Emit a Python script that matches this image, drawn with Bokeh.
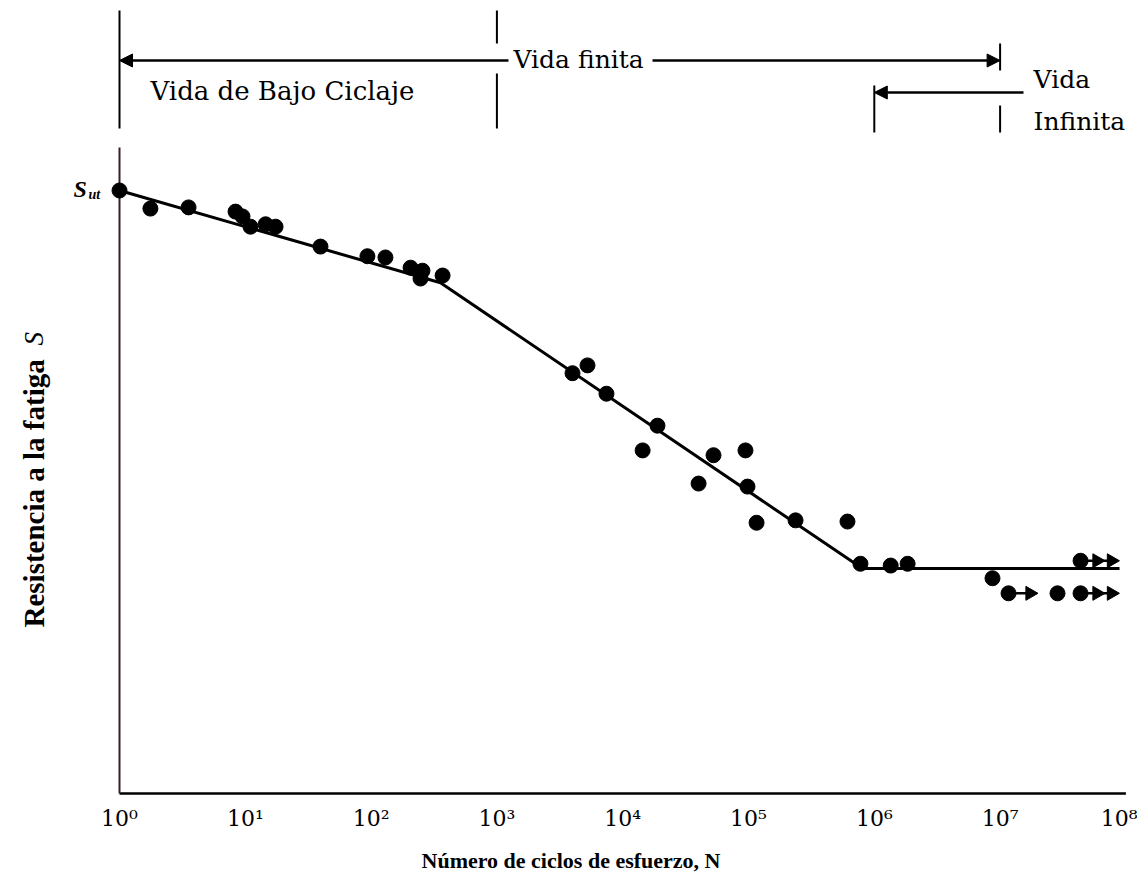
import numpy as np
from bokeh.plotting import figure
from bokeh.models import Range1d, FixedTicker, Arrow, NormalHead, CustomJSTickFormatter
from bokeh.core.properties import value
from bokeh.embed import file_html
from bokeh.resources import INLINE

# ---------------- data ----------------
# test points: number of cycles N and fatigue strength S (S / Sut)
cycles = [1, 1.76, 3.54, 8.36, 9.5, 11.0, 14.5, 17.4, 39.6, 93.5, 130, 206, 256, 247, 370,
          3990, 5250, 7430, 18900, 14400, 52700, 94600, 40100, 98200, 115900, 236600,
          612000, 776000, 1.35e6, 1.84e6, 8.7e6, 2.86e7]
strength = [1.000, 0.970, 0.972, 0.965, 0.957, 0.940, 0.944, 0.940, 0.907, 0.891, 0.889,
            0.872, 0.867, 0.854, 0.859,
            0.697, 0.710, 0.663, 0.610, 0.569, 0.561, 0.569, 0.514, 0.509, 0.449, 0.453,
            0.451, 0.381, 0.378, 0.381, 0.357, 0.332]

# run-outs (specimens that did not fail)
runout_cycles = [1.167e7, 4.36e7, 4.36e7]
runout_strength = [0.332, 0.332, 0.386]
runout_heads = [1, 2, 2]

# fitted S-N curve
curve_cycles = [1, 356, 8.05e5, 8.9e7]
curve_strength = [1.0, 0.847, 0.373, 0.373]

# axis ticks
tick_values = [1.0, 10.0, 100.0, 1e3, 1e4, 1e5, 1e6, 1e7, 1e8]
tick_labels = ["10⁰", "10¹", "10²", "10³", "10⁴", "10⁵", "10⁶", "10⁷", "10⁸"]

# life regions
region_bounds = [1, 1e3, 1e6, 1e7]
region_texts = ["Vida de Bajo Ciclaje", "Vida finita", "Vida", "Infinita"]
x_title = "Número de ciclos de esfuerzo, N"
y_title = "Resistencia a la fatiga"

# ---------------- figure ----------------
p = figure(width=1137, height=876, x_axis_type="log", y_axis_location=None, title=None,
           x_range=Range1d(10 ** -0.8824, 10 ** 8.0604), y_range=Range1d(-0.0033, 1.3151),
           output_backend="svg", toolbar_location=None,
           min_border_left=8, min_border_right=4, min_border_top=0, min_border_bottom=81)
p.outline_line_color = None
p.grid.visible = False
p.background_fill_color = "white"
p.border_fill_color = "white"

ax = p.xaxis[0]
ax.ticker = FixedTicker(ticks=tick_values, minor_ticks=[])
ax.formatter = CustomJSTickFormatter(
    args=dict(vals=tick_values, labs=tick_labels),
    code="const i = vals.findIndex(v => Math.abs(v - tick) < 1e-6 * v); return i >= 0 ? labs[i] : '';")
ax.axis_line_color = None
ax.major_tick_line_color = None
ax.minor_tick_line_color = None
ax.major_tick_out = 0
ax.major_tick_in = 0
ax.major_label_standoff = 10
ax.major_label_text_font = "DejaVu Serif"
ax.major_label_text_font_size = "22px"
ax.major_label_text_color = "black"
ax.axis_label = x_title
ax.axis_label_text_font = "Liberation Serif"
ax.axis_label_text_font_style = "bold"
ax.axis_label_text_font_size = "22px"
ax.axis_label_text_color = "black"
ax.axis_label_standoff = 14

# axis lines
p.segment(x0=[1], y0=[0], x1=[1e8], y1=[0], line_color="black", line_width=2.5)
p.segment(x0=[1], y0=[0], x1=[1], y1=[1.0713], line_color="#3a1f2c", line_width=2)

# region bracket lines
b0, b3, b6, b7 = region_bounds
p.segment(x0=[b0, b3, b3, b6, b7, b7],
          y0=[1.2985, 1.2985, 1.1940, 1.1740, 1.2438, 1.1410],
          x1=[b0, b3, b3, b6, b7, b7],
          y1=[1.1028, 1.2438, 1.1028, 1.0962, 1.1990, 1.0962],
          line_color="black", line_width=2)

# arrows
y_fin = 1.2156
y_inf = 1.1625
p.add_layout(Arrow(end=NormalHead(size=13, fill_color="black", line_color="black"),
                   x_start=10 ** 3.092, y_start=y_fin, x_end=b0, y_end=y_fin,
                   line_color="black", line_width=2.5))
p.add_layout(Arrow(end=NormalHead(size=13, fill_color="black", line_color="black"),
                   x_start=10 ** 4.237, y_start=y_fin, x_end=b7, y_end=y_fin,
                   line_color="black", line_width=2.5))
p.add_layout(Arrow(end=NormalHead(size=13, fill_color="black", line_color="black"),
                   x_start=10 ** 7.186, y_start=y_inf, x_end=b6, y_end=y_inf,
                   line_color="black", line_width=2.5))

# region texts
p.text(x=[10 ** 0.2464], y=[1.1642], text=[region_texts[0]],
       text_font=value("DejaVu Serif"), text_font_size="26px", text_color="black",
       text_align="left", text_baseline="alphabetic")
p.text(x=[10 ** 3.132], y=[1.2172], text=[region_texts[1]],
       text_font=value("DejaVu Serif"), text_font_size="25px", text_color="black",
       text_align="left", text_baseline="alphabetic")
p.text(x=[10 ** 7.266, 10 ** 7.266], y=[1.1841, 1.1144], text=region_texts[2:],
       text_font=value("DejaVu Serif"), text_font_size="25px", text_color="black",
       text_align="left", text_baseline="alphabetic")

# S-N curve
p.line(curve_cycles, curve_strength, line_color="black", line_width=3)

# data points
p.scatter(cycles, strength, size=15, color="black")

# run-outs: dot + arrow(s)
rc = np.array(runout_cycles)
rs = np.array(runout_strength)
rh = np.array(runout_heads)
p.scatter(rc, rs, size=15, color="black")
seg_end = np.where(rh == 1, rc * 10 ** 0.16, rc * 10 ** 0.29)
p.segment(x0=rc, y0=rs, x1=seg_end, y1=rs, line_color="black", line_width=2.5)
hx = list(rc[rh == 1] * 10 ** 0.17) + list(rc[rh == 2] * 10 ** 0.13) + list(rc[rh == 2] * 10 ** 0.245)
hy = list(rs[rh == 1]) + list(rs[rh == 2]) + list(rs[rh == 2])
p.scatter(hx, hy, marker="triangle", angle=-np.pi / 2, size=14, color="black")

# S_ut label
p.text(x=[10 ** -0.3657], y=[1.0017], text=["S"], text_font=value("Liberation Serif"),
       text_font_style="bold italic", text_font_size="24px", text_color="black",
       text_align="left", text_baseline="alphabetic")
p.text(x=[10 ** -0.2465], y=[0.9933], text=["ut"], text_font=value("Liberation Serif"),
       text_font_style="bold italic", text_font_size="14px", text_color="black",
       text_align="left", text_baseline="alphabetic")

# y-axis title (rotated)
p.text(x=[10 ** -0.6835], y=[0.2753], text=[y_title], angle=np.pi / 2,
       text_font=value("Liberation Serif"), text_font_style="bold", text_font_size="29px",
       text_color="black", text_align="left", text_baseline="alphabetic")
p.text(x=[10 ** -0.6835], y=[0.743], text=["S"], angle=np.pi / 2,
       text_font=value("Liberation Serif"), text_font_style="italic", text_font_size="27px",
       text_color="black", text_align="left", text_baseline="alphabetic")

open("out.html", "w").write(file_html(p, INLINE))
